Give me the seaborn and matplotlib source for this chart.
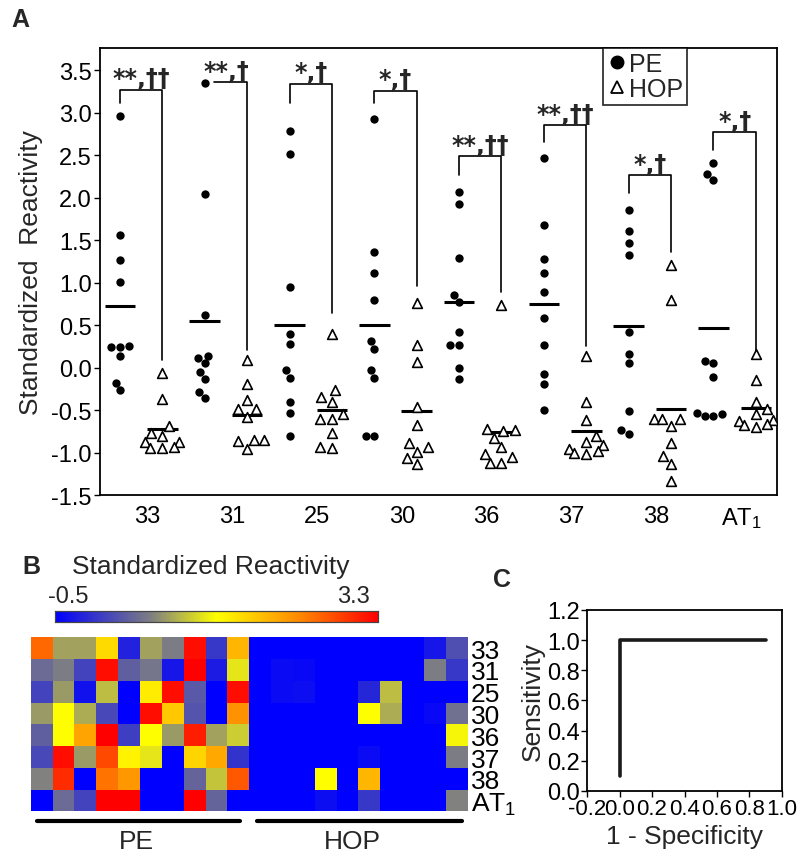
import numpy as np
import pandas as pd
import seaborn as sns
import matplotlib.pyplot as plt
from matplotlib.colors import LinearSegmentedColormap
from matplotlib.lines import Line2D

# --- Panel A data: standardized reactivity per peptide ---
peptides = ['33', '31', '25', '30', '36', '37', '38', 'AT$_1$']

pe_33 = [2.96, 1.56, 1.26, 1.01, 0.24, 0.25, 0.24, 0.13, -0.18, -0.27]
hop_33 = [-0.06, -0.37, -0.69, -0.77, -0.80, -0.88, -0.88, -0.93, -0.95, -0.95]
pe_31 = [3.35, 2.04, 0.62, 0.14, 0.11, 0.05, -0.05, -0.13, -0.29, -0.36]
hop_31 = [0.09, -0.19, -0.38, -0.49, -0.49, -0.58, -0.85, -0.85, -0.87, -0.96]
pe_25 = [2.78, 2.51, 0.95, 0.39, 0.28, -0.03, -0.12, -0.40, -0.54, -0.80]
hop_25 = [0.39, -0.27, -0.35, -0.40, -0.55, -0.60, -0.60, -0.77, -0.93, -0.95]
pe_30 = [2.93, 1.36, 1.11, 0.79, 0.31, 0.22, -0.03, -0.12, -0.80, -0.80]
hop_30 = [0.76, 0.27, 0.07, -0.46, -0.68, -0.89, -0.94, -0.99, -1.06, -1.14]
pe_36 = [2.07, 1.92, 1.29, 0.85, 0.77, 0.42, 0.27, 0.27, 0.00, -0.14]
hop_36 = [0.74, -0.72, -0.74, -0.75, -0.83, -0.93, -1.02, -1.05, -1.12, -1.12]
pe_37 = [2.47, 1.68, 1.28, 1.11, 0.89, 0.58, 0.26, -0.08, -0.19, -0.50]
hop_37 = [0.13, -0.41, -0.62, -0.80, -0.88, -0.91, -0.96, -0.98, -1.00, -1.02]
pe_38 = [1.85, 1.61, 1.46, 1.32, 0.42, 0.16, 0.05, -0.51, -0.73, -0.78]
hop_38 = [1.21, 0.79, -0.60, -0.60, -0.60, -0.69, -0.89, -1.04, -1.14, -1.34]
pe_at1 = [2.41, 2.28, 2.21, 0.08, 0.05, -0.11, -0.53, -0.55, -0.57, -0.57]
hop_at1 = [0.16, -0.15, -0.40, -0.49, -0.55, -0.62, -0.63, -0.66, -0.68, -0.70]

pe_all = [pe_33, pe_31, pe_25, pe_30, pe_36, pe_37, pe_38, pe_at1]
hop_all = [hop_33, hop_31, hop_25, hop_30, hop_36, hop_37, hop_38, hop_at1]

# significance brackets
sig_text = ['**,\u2020\u2020', '**,\u2020', '*,\u2020', '*,\u2020',
            '**,\u2020\u2020', '**,\u2020\u2020', '*,\u2020', '*,\u2020']
bracket_top = [3.27, 3.36, 3.34, 3.26, 2.49, 2.85, 2.26, 2.77]
pe_leg_end = [3.11, 3.36, 3.11, 3.11, 2.26, 2.65, 2.05, 2.56]
hop_leg_end = [0.09, 0.21, 0.64, 0.96, 0.89, 0.25, 1.36, 0.19]

# --- Panel B data: heatmap (rows = peptides, cols = 10 PE + 10 HOP) ---
heat_33 = [2.6, 0.85, 0.85, 1.7, -0.2, 0.85, 0.6, 3.2, 0.0, 2.0,
           -0.5, -0.5, -0.5, -0.5, -0.5, -0.5, -0.5, -0.5, -0.3, 0.2]
heat_31 = [0.45, 0.6, 0.1, 3.2, 0.35, 0.55, -0.3, 3.3, -0.25, 1.25,
           -0.5, -0.4, -0.42, -0.5, -0.5, -0.5, -0.5, -0.5, 0.6, 0.0]
heat_25 = [0.1, 0.8, -0.35, 1.0, -0.5, 1.55, 3.2, 0.3, -0.5, 3.2,
           -0.5, -0.4, -0.38, -0.5, -0.5, -0.15, 1.0, -0.5, -0.5, -0.5]
heat_30 = [0.8, 1.4, 0.9, 0.15, -0.5, 3.2, 1.85, 0.25, -0.5, 2.3,
           -0.5, -0.5, -0.5, -0.5, -0.5, 1.4, 0.9, -0.5, -0.42, 0.5]
heat_36 = [0.35, 1.4, 2.15, 3.3, 0.05, 1.4, 0.8, 3.1, 0.85, 1.1,
           -0.5, -0.5, -0.5, -0.5, -0.5, -0.5, -0.5, -0.5, -0.5, 1.35]
heat_37 = [0.15, 3.2, 0.8, 2.8, 1.5, 1.25, -0.5, 1.75, 2.1, -0.05,
           -0.5, -0.5, -0.5, -0.5, -0.5, -0.4, -0.5, -0.5, -0.5, 0.6]
heat_38 = [0.65, 3.0, -0.5, 2.5, 2.25, -0.5, -0.5, 0.4, 1.05, 2.7,
           -0.5, -0.5, -0.5, 1.4, -0.5, 2.0, -0.5, -0.5, -0.5, -0.5]
heat_at1 = [-0.5, 0.45, 0.1, 3.3, 3.3, -0.5, -0.5, 3.3, 0.4, -0.5,
            -0.5, -0.5, -0.5, -0.38, -0.5, 0.0, -0.5, -0.5, -0.5, 0.65]

# --- Panel C data: ROC curve ---
roc_fpr = [0.0, 0.0, 0.9]
roc_tpr = [0.1, 1.0, 1.0]

sns.set_theme(style='white')
plt.rcParams['font.family'] = ['Liberation Sans', 'DejaVu Sans']
plt.rcParams['mathtext.default'] = 'regular'
plt.rcParams['axes.edgecolor'] = 'black'
plt.rcParams['axes.linewidth'] = 1.3
plt.rcParams['xtick.color'] = 'black'
plt.rcParams['ytick.color'] = 'black'

fig = plt.figure(figsize=(7.99, 8.54), dpi=100)

# ---------------- Panel A ----------------
rows = []
for pep, pe, hop in zip(peptides, pe_all, hop_all):
    rows += [{'cat': pep + '|PE', 'group': 'PE', 'value': v} for v in pe]
    rows += [{'cat': pep + '|HOP', 'group': 'HOP', 'value': v} for v in hop]
df = pd.DataFrame(rows)
order = [p + '|' + g for p in peptides for g in ['PE', 'HOP']]

ax = fig.add_axes([0.1252, 0.4192, 0.8473, 0.5234])
sns.swarmplot(data=df[df['group'] == 'PE'], x='cat', y='value', order=order,
              color='black', size=6, ax=ax)
sns.swarmplot(data=df[df['group'] == 'HOP'], x='cat', y='value', order=order,
              color='white', edgecolor='black', linewidth=1.2, marker='^',
              size=7, ax=ax)

for i in range(len(peptides)):
    ax.hlines(np.mean(pe_all[i]), 2 * i - 0.36, 2 * i + 0.36, color='black', lw=2.2)
    ax.hlines(np.mean(hop_all[i]), 2 * i + 1 - 0.36, 2 * i + 1 + 0.36, color='black', lw=2.2)
    x0 = 2 * i
    if pe_leg_end[i] >= bracket_top[i]:
        x0 = 2 * i + 0.22
    ax.plot([x0, x0, 2 * i + 1, 2 * i + 1],
            [pe_leg_end[i], bracket_top[i], bracket_top[i], hop_leg_end[i]],
            color='black', lw=1.2)
    ax.text(2 * i + 0.5, bracket_top[i] + 0.05, sig_text[i], ha='center',
            va='baseline', fontsize=17, fontweight='bold', family=['DejaVu Sans'])

ax.set_xlim(-0.47, 15.5)
ax.set_ylim(-1.5, 3.76)
ax.set_yticks(np.arange(-1.5, 3.51, 0.5))
ax.set_yticklabels(['%.1f' % t for t in np.arange(-1.5, 3.51, 0.5)])
ax.set_xticks([2 * i + 0.65 for i in range(len(peptides))])
ax.set_xticklabels(peptides)
ax.tick_params(axis='y', length=4, width=1, pad=2, labelsize=17, left=True)
ax.tick_params(axis='x', length=0, pad=7, labelsize=17)
ax.set_xlabel('')
ax.set_ylabel('Standardized  Reactivity', fontsize=19, labelpad=6)

handles = [Line2D([], [], marker='o', color='black', ls='none', markersize=9),
           Line2D([], [], marker='^', mfc='white', mec='black', mew=1.3,
                  ls='none', markersize=9)]
leg = ax.legend(handles, ['PE', 'HOP'], loc='upper left',
                bbox_to_anchor=(0.743, 1.0), fontsize=18, frameon=True,
                fancybox=False, edgecolor='black', borderpad=0.15,
                handletextpad=0.1, handlelength=0.8, labelspacing=0.05,
                borderaxespad=0)
leg.get_frame().set_linewidth(1.3)

# ---------------- Panel B ----------------
heat = pd.DataFrame([heat_33, heat_31, heat_25, heat_30, heat_36,
                     heat_37, heat_38, heat_at1], index=peptides)
cmap = LinearSegmentedColormap.from_list(
    'react', [(0.0, '#0000ff'), (0.3, '#808080'), (0.5, '#ffff00'),
              (0.75, '#ff8c00'), (1.0, '#ff0000')])

axh = fig.add_axes([0.0384, 0.0486, 0.547, 0.204])
cax = fig.add_axes([0.0688, 0.2705, 0.4043, 0.0129])
sns.heatmap(heat, cmap=cmap, vmin=-0.5, vmax=3.3, ax=axh, cbar_ax=cax,
            cbar_kws={'orientation': 'horizontal'}, xticklabels=False,
            yticklabels=peptides)
axh.yaxis.tick_right()
axh.tick_params(axis='y', length=0, pad=2, labelsize=19, labelrotation=0)
axh.set_ylabel('')
cax.set_xticks([])
for s in cax.spines.values():
    s.set_visible(True)
    s.set_linewidth(0.8)
    s.set_color('#444444')

fig.text(0.264, 0.336, 'Standardized Reactivity', ha='center', va='center', fontsize=19)
fig.text(0.060, 0.301, '-0.5', ha='left', va='center', fontsize=17)
fig.text(0.463, 0.301, '3.3', ha='right', va='center', fontsize=17)

trans = axh.get_xaxis_transform()
axh.plot([0.3, 9.6], [-0.055, -0.055], color='black', lw=3, transform=trans, clip_on=False)
axh.plot([10.35, 19.75], [-0.055, -0.055], color='black', lw=3, transform=trans, clip_on=False)
axh.text(4.85, -0.17, 'PE', ha='center', va='center', fontsize=19, transform=trans)
axh.text(14.7, -0.17, 'HOP', ha='center', va='center', fontsize=19, transform=trans)

# ---------------- Panel C ----------------
axc = fig.add_axes([0.7347, 0.0726, 0.244, 0.212])
sns.lineplot(x=roc_fpr, y=roc_tpr, sort=False, estimator=None, errorbar=None,
             color='#1a1a1a', lw=2.6, ax=axc, solid_capstyle='round')
axc.set_xlim(-0.2, 1.0)
axc.set_ylim(0.0, 1.2)
axc.set_xticks(np.arange(-0.2, 1.01, 0.2))
axc.set_xticklabels(['%.1f' % t for t in np.arange(-0.2, 1.01, 0.2)])
axc.set_yticks(np.arange(0.0, 1.21, 0.2))
axc.set_yticklabels(['%.1f' % t for t in np.arange(0.0, 1.21, 0.2)])
axc.tick_params(axis='both', length=4, width=1, pad=1, labelsize=16,
                left=True, bottom=True)
axc.tick_params(axis='y', labelsize=17)
axc.set_xlabel('1 - Specificity', fontsize=19, labelpad=4)
axc.set_ylabel('Sensitivity', fontsize=19, labelpad=2)

# panel letters
fig.text(0.025, 0.977, 'A', fontsize=18, fontweight='bold', ha='center', va='center')
fig.text(0.039, 0.336, 'B', fontsize=18, fontweight='bold', ha='center', va='center')
fig.text(0.628, 0.321, 'C', fontsize=18, fontweight='bold', ha='center', va='center')

plt.savefig('out.png', dpi=100)
plt.close()
